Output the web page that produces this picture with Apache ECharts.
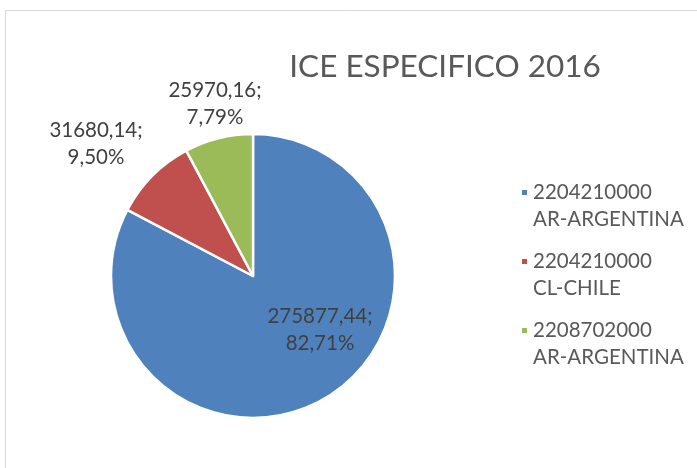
<!DOCTYPE html>
<html>
<head>
<meta charset="utf-8">
<script src="https://cdn.jsdelivr.net/npm/echarts@6/dist/echarts.min.js"></script>
<style>html,body{margin:0;padding:0;background:#fff}#c{width:697px;height:468px}</style>
</head>
<body>
<div id="c"></div>
<script>
const categories = ["2204210000\nAR-ARGENTINA", "2204210000\nCL-CHILE", "2208702000\nAR-ARGENTINA"];
const values = [275877.44, 31680.14, 25970.16];
const percents = ["82,71%", "9,50%", "7,79%"];
const valueLabels = ["275877,44;", "31680,14;", "25970,16;"];
const titleText = "ICE ESPECIFICO 2016";

const colors = ["#4F81BD", "#C0504D", "#9BBB59"];
const labelCenters = [[320, 330], [96, 144], [215, 104]];
const FONT = "Lato";

const chart = echarts.init(document.getElementById('c'), null, {renderer: 'canvas'});
chart.setOption({
  animation: false,
  color: colors,
  title: {
    text: titleText, left: 440, top: 62, textAlign: 'center', textVerticalAlign: 'middle',
    textStyle: {fontFamily: FONT, fontSize: 31.5, fontWeight: 'normal', color: '#595959'}
  },
  graphic: [{
    type: 'rect', shape: {x: 5.5, y: 10.5, width: 800, height: 600},
    style: {fill: 'none', stroke: '#d9d9d9', lineWidth: 1}, silent: true
  }],
  legend: {
    orient: 'vertical', left: 515, top: 147,
    itemWidth: 7, itemHeight: 7, itemGap: -12,
    icon: 'rect',
    formatter: n => '\n' + n,
    textStyle: {fontFamily: FONT, fontSize: 20.5, color: '#595959', lineHeight: 27},
    data: categories
  },
  series: [{
    type: 'pie',
    center: [253, 276], radius: 142,
    startAngle: 90, clockwise: true,
    itemStyle: {borderColor: '#fff', borderWidth: 2.5},
    label: {
      show: true, position: 'inside',
      fontFamily: FONT, fontSize: 20.5, color: '#404040', lineHeight: 27,
      formatter: p => valueLabels[p.dataIndex] + "\n" + percents[p.dataIndex]
    },
    labelLine: {show: false},
    labelLayout: p => ({x: labelCenters[p.dataIndex][0], y: labelCenters[p.dataIndex][1], align: 'center', verticalAlign: 'middle'}),
    data: categories.map((n, i) => ({name: n, value: values[i]}))
  }]
});
</script>
</body>
</html>
